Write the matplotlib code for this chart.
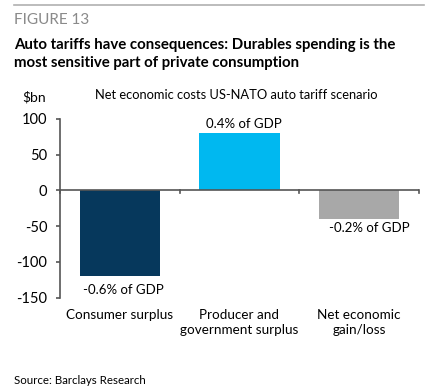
import matplotlib.pyplot as plt
import matplotlib.transforms as mtransforms

categories = ["Consumer surplus", "Producer and\ngovernment surplus", "Net economic\ngain/loss"]
values = [-120, 80, -40]
gdp_labels = ["-0.6% of GDP", "0.4% of GDP", "-0.2% of GDP"]
colors = ["#06385c", "#00b8f0", "#a8a8a8"]
yticks = [100, 50, 0, -50, -100, -150]

# pixel nudges of the % of GDP labels (the original sits them a bit off-centre)
label_offsets = [(4, -8), (4, 3), (10, -3)]

plt.rcParams["font.family"] = ["Lato", "DejaVu Sans"]

W, H = 431, 392
fig = plt.figure(figsize=(W / 100, H / 100), dpi=100)

# header
fig.add_artist(plt.Line2D([14 / W, 424 / W], [1 - 5 / H, 1 - 5 / H], color="#b0b0b0", lw=1.2))
fig.text(14 / W, 1 - 20 / H, "FIGURE 13", color="#8a8a8a", fontsize=11, va="center")
fig.text(14 / W, 1 - 54 / H,
         "Auto tariffs have consequences: Durables spending is the\nmost sensitive part of private consumption",
         fontsize=10.8, fontweight="bold", va="center", linespacing=1.35)
fig.text(22 / W, 1 - 97 / H, "$bn", fontsize=10, va="center")
fig.text(95 / W, 1 - 95 / H, "Net economic costs US-NATO auto tariff scenario", fontsize=9.3, va="center")
fig.text(14 / W, 1 - 381 / H, "Source: Barclays Research", fontsize=8.3, va="center")

ax = fig.add_axes([60 / W, 1 - 297.5 / H, 359 / W, 178.5 / H])
x = range(len(values))
ax.bar(x, values, width=0.67, color=colors, zorder=1)
ax.set_xlim(-0.5, 2.5)
ax.set_ylim(-150, 100)

for s in ["top", "right", "bottom"]:
    ax.spines[s].set_visible(False)
ax.spines["left"].set_color("#555555")
ax.spines["left"].set_linewidth(1.2)
ax.axhline(0, color="#555555", lw=1.2, zorder=2)

ax.set_yticks(yticks)
ax.set_yticklabels([str(v) for v in yticks], fontsize=10.5)
ax.tick_params(axis="y", length=3, width=1.2, color="#555555", pad=6)
ax.set_xticks([])

# category boundary ticks on the zero line
for b in [-0.5, 0.5, 1.5, 2.5]:
    ax.plot([b, b], [0, -3], color="#555555", lw=1.2, clip_on=False, zorder=2)

for xi, v, lab, off in zip(x, values, gdp_labels, label_offsets):
    ax.annotate(lab, (xi, v), xytext=off, textcoords="offset pixels",
                ha="center", va="bottom" if v > 0 else "top", fontsize=9.5)

trans = mtransforms.blended_transform_factory(ax.transData, fig.transFigure)
for xi, cat in zip(x, categories):
    ax.text(xi, 1 - 309 / H, cat, transform=trans, ha="center", va="top",
            fontsize=9.7, linespacing=1.3)

fig.savefig("out.png", dpi=100, facecolor="white")
